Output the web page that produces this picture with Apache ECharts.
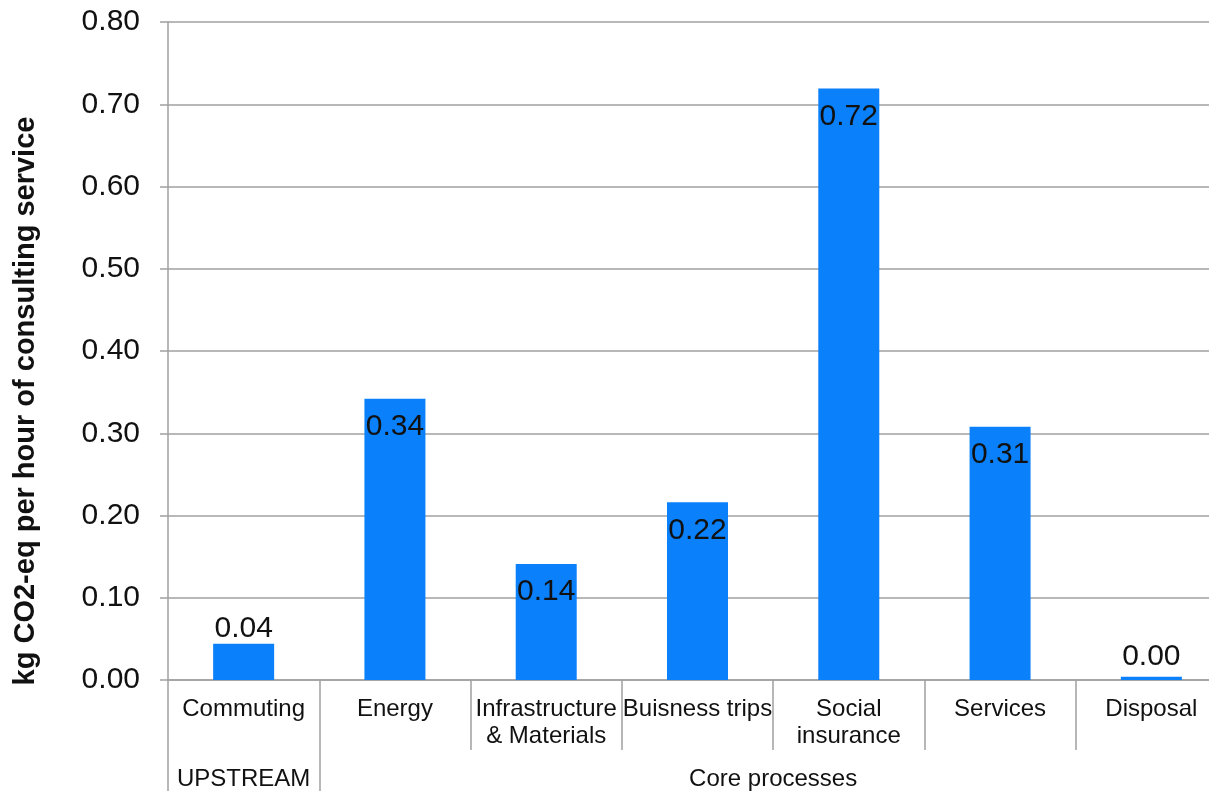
<!DOCTYPE html>
<html>
<head>
<meta charset="utf-8">
<script src="https://cdn.jsdelivr.net/npm/echarts@6/dist/echarts.min.js"></script>
<style>
  html, body { margin: 0; padding: 0; background: #fff; }
  #main { width: 1209px; height: 791px; }
</style>
</head>
<body>
<div id="main"></div>
<script>
// data
var categories = ['Commuting', 'Energy', 'Infrastructure\n& Materials', 'Buisness trips', 'Social\ninsurance', 'Services', 'Disposal'];
var values = [0.044, 0.342, 0.141, 0.216, 0.719, 0.308, 0.004];
var groupNames = ['UPSTREAM', 'Core processes'];
var groupBounds = [0, 1, 7];   // category boundaries of the groups
var yTicks = [0, 0.1, 0.2, 0.3, 0.4, 0.5, 0.6, 0.7, 0.8];

var font = 'Liberation Sans, Arial, sans-serif';
var grey = '#a0a0a0';

var groupCenters = [];
for (var i = 0; i < groupNames.length; i++) {
    groupCenters.push((groupBounds[i] + groupBounds[i + 1]) / 2);
}

// labels: inside the top of the bar, small bars get it above
var barData = values.map(function (v) {
    var item = { value: v };
    if (v < 0.01) {
        item.label = { position: 'top', distance: 5 };
    } else if (v < 0.1) {
        item.label = { position: 'top', distance: 0 };
    }
    return item;
});

var myChart = echarts.init(document.getElementById('main'));

var option = {
    backgroundColor: '#fff',
    animation: false,
    grid: {
        left: 168,
        right: -18,
        top: 22,
        bottom: 111,
        containLabel: false,
        outerBoundsMode: 'none'
    },
    xAxis: [{
        type: 'category',
        data: categories,
        position: 'bottom',
        axisLine: { lineStyle: { color: grey, width: 1.5 } },
        axisTick: { show: true, length: 70, alignWithLabel: false, lineStyle: { color: grey, width: 1.5 } },
        axisLabel: {
            interval: 0,
            margin: 16,
            color: '#111',
            fontFamily: font,
            fontSize: 24,
            lineHeight: 27
        }
    }, {
        type: 'value',
        min: 0,
        max: 7,
        position: 'bottom',
        offset: 70,
        axisLine: { show: false },
        splitLine: { show: false },
        axisTick: {
            show: true,
            length: 45,
            customValues: groupBounds.slice(0, 2),
            lineStyle: { color: grey, width: 1.5 }
        },
        axisLabel: {
            customValues: groupCenters,
            margin: 17,
            color: '#111',
            fontFamily: font,
            fontSize: 24,
            formatter: function (v) {
                var idx = groupCenters.indexOf(v);
                return idx >= 0 ? groupNames[idx] : '';
            }
        }
    }],
    yAxis: {
        type: 'value',
        min: 0,
        max: 0.8,
        interval: 0.1,
        name: 'kg CO2-eq per hour of consulting service',
        nameLocation: 'middle',
        nameGap: 128,
        nameRotate: 90,
        nameTextStyle: {
            color: '#111',
            fontFamily: font,
            fontSize: 29,
            fontWeight: 'bold',
            padding: [0, 100, 0, 0]
        },
        axisLine: { show: true, lineStyle: { color: grey, width: 1.5 } },
        axisTick: { show: true, length: 8, lineStyle: { color: grey, width: 1.5 } },
        splitLine: { show: true, lineStyle: { color: grey, width: 1.5 } },
        axisLabel: {
            margin: 28,
            color: '#111',
            fontFamily: font,
            fontSize: 30,
            formatter: function (v) { return v.toFixed(2); }
        }
    },
    series: [{
        type: 'bar',
        xAxisIndex: 0,
        data: barData,
        barWidth: 61,
        itemStyle: { color: '#0a80fa' },
        label: {
            show: true,
            position: 'insideTop',
            distance: 13,
            color: '#111',
            fontFamily: font,
            fontSize: 30,
            formatter: function (p) { return p.value.toFixed(2); }
        }
    }]
};

myChart.setOption(option);
</script>
</body>
</html>
